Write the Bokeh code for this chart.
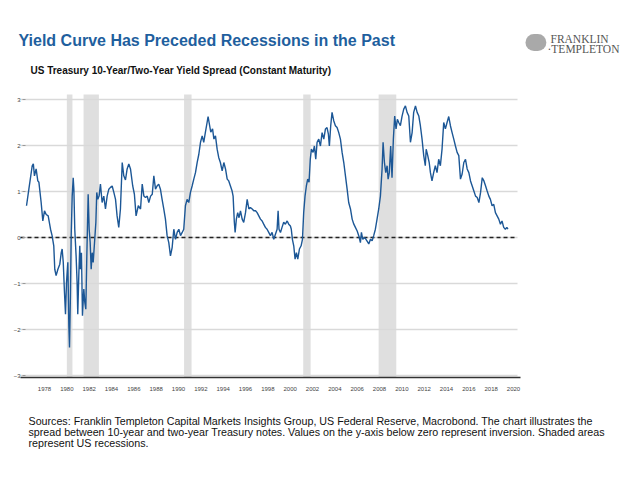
from bokeh.plotting import figure
from bokeh.models import Range1d, FixedTicker, BoxAnnotation, Label
from bokeh.embed import file_html
from bokeh.resources import INLINE

# ---------------- data ----------------
years = [1976.39, 1976.6, 1976.9, 1977.0, 1977.1, 1977.25, 1977.4, 1977.5, 1977.7, 1977.85,
         1978.0, 1978.15, 1978.33, 1978.54, 1978.68, 1978.83, 1978.92, 1979.04, 1979.2, 1979.37,
         1979.5, 1979.58, 1979.68, 1979.79, 1979.88, 1979.97, 1980.09, 1980.18, 1980.24, 1980.32,
         1980.39, 1980.48, 1980.57, 1980.63, 1980.71, 1980.83, 1980.92, 1980.98, 1981.07, 1981.16,
         1981.22, 1981.31, 1981.4, 1981.52, 1981.61, 1981.7, 1981.79, 1981.91, 1982.0, 1982.09,
         1982.18, 1982.27, 1982.36, 1982.48, 1982.6, 1982.68, 1982.77, 1982.89, 1983.01, 1983.16,
         1983.31, 1983.46, 1983.61, 1983.76, 1983.91, 1984.06, 1984.21, 1984.36, 1984.5, 1984.65,
         1984.8, 1984.96, 1985.1, 1985.25, 1985.4, 1985.55, 1985.7, 1985.9, 1986.05, 1986.2,
         1986.4, 1986.6, 1986.75, 1986.9, 1987.04, 1987.2, 1987.34, 1987.5, 1987.65, 1987.79,
         1987.94, 1988.08, 1988.23, 1988.38, 1988.53, 1988.68, 1988.83, 1988.98, 1989.13, 1989.28,
         1989.43, 1989.58, 1989.73, 1989.88, 1990.03, 1990.18, 1990.33, 1990.47, 1990.62, 1990.77,
         1990.92, 1991.07, 1991.22, 1991.37, 1991.52, 1991.67, 1991.82, 1991.97, 1992.12, 1992.26,
         1992.41, 1992.56, 1992.65, 1992.74, 1992.89, 1993.05, 1993.17, 1993.31, 1993.46, 1993.6,
         1993.75, 1993.91, 1994.06, 1994.21, 1994.36, 1994.5, 1994.65, 1994.8, 1994.89, 1995.0,
         1995.07, 1995.18, 1995.3, 1995.42, 1995.55, 1995.7, 1995.84, 1996.0, 1996.15, 1996.3,
         1996.44, 1996.6, 1996.74, 1996.9, 1997.04, 1997.19, 1997.34, 1997.49, 1997.63, 1997.78,
         1997.93, 1998.08, 1998.23, 1998.38, 1998.53, 1998.68, 1998.83, 1998.92, 1999.0, 1999.13,
         1999.27, 1999.42, 1999.57, 1999.73, 1999.87, 2000.02, 2000.1, 2000.2, 2000.32, 2000.44,
         2000.56, 2000.68, 2000.83, 2000.98, 2001.1, 2001.21, 2001.33, 2001.45, 2001.57, 2001.69,
         2001.8, 2001.9, 2002.05, 2002.17, 2002.29, 2002.41, 2002.56, 2002.71, 2002.86, 2003.01,
         2003.16, 2003.3, 2003.42, 2003.51, 2003.63, 2003.75, 2003.9, 2004.05, 2004.2, 2004.35,
         2004.5, 2004.65, 2004.8, 2004.95, 2005.1, 2005.24, 2005.4, 2005.55, 2005.7, 2005.84,
         2006.0, 2006.14, 2006.29, 2006.38, 2006.5, 2006.68, 2006.86, 2007.04, 2007.19, 2007.34,
         2007.48, 2007.63, 2007.78, 2007.93, 2008.08, 2008.23, 2008.32, 2008.44, 2008.56, 2008.68,
         2008.77, 2008.88, 2009.0, 2009.12, 2009.24, 2009.36, 2009.48, 2009.6, 2009.72, 2009.87,
         2010.02, 2010.17, 2010.32, 2010.47, 2010.62, 2010.77, 2010.92, 2011.06, 2011.22, 2011.37,
         2011.52, 2011.66, 2011.81, 2011.96, 2012.1, 2012.18, 2012.32, 2012.45, 2012.56, 2012.7,
         2012.85, 2013.0, 2013.15, 2013.3, 2013.45, 2013.6, 2013.75, 2013.9, 2014.05, 2014.2,
         2014.35, 2014.5, 2014.65, 2014.8, 2014.95, 2015.1, 2015.25, 2015.4, 2015.55, 2015.7,
         2015.85, 2016.0, 2016.15, 2016.3, 2016.45, 2016.6, 2016.75, 2016.9, 2017.05, 2017.2,
         2017.35, 2017.5, 2017.64, 2017.79, 2017.93, 2018.08, 2018.23, 2018.38, 2018.53, 2018.68,
         2018.83, 2018.97, 2019.12, 2019.27, 2019.4, 2019.5]
spread = [0.69, 1.05, 1.56, 1.60, 1.34, 1.49, 1.23, 1.20, 0.76, 0.36,
          0.58, 0.50, 0.47, 0.18, 0.04, -0.18, -0.69, -0.83, -0.69, -0.58,
          -0.33, -0.25, -0.54, -1.20, -1.67, -0.98, -0.54, -1.92, -2.39, -1.27,
          0.04, 0.90, 1.30, 1.05, 0.18, -0.40, -0.98, -1.67, -0.83, -0.18,
          -0.69, -0.33, -1.70, -1.12, -1.41, -1.56, -0.40, 0.94, 0.18, -0.11,
          -0.69, -0.33, -0.54, -0.11, 0.33, 0.98, 0.83, 0.90, 1.16, 0.76,
          0.90, 0.62, 0.90, 1.05, 1.09, 1.12, 0.98, 0.83, 0.47, 0.22,
          0.62, 1.63, 1.34, 1.25, 1.49, 1.60, 1.49, 1.12, 0.94, 0.47,
          0.69, 0.62, 1.16, 0.90, 0.87, 0.90, 0.76, 0.90, 0.94, 1.34,
          1.05, 1.12, 1.16, 1.05, 0.83, 0.62, 0.40, 0.04, -0.11, -0.40,
          -0.22, 0.18, -0.04, 0.11, 0.18, 0.04, 0.11, 0.18, 0.69, 0.83,
          0.76, 0.98, 1.12, 1.27, 1.41, 1.63, 1.81, 2.07, 2.21, 2.07,
          2.29, 2.50, 2.63, 2.50, 2.29, 2.36, 2.14, 2.21, 1.92, 1.74,
          1.63, 1.45, 1.63, 1.49, 1.27, 1.23, 1.12, 1.01, 0.90, 0.33,
          0.11, 0.40, 0.54, 0.43, 0.58, 0.40, 0.33, 0.54, 0.83, 0.62,
          0.65, 0.62, 0.58, 0.58, 0.54, 0.47, 0.40, 0.36, 0.29, 0.22,
          0.18, 0.11, 0.04, 0.11, -0.04, 0.07, 0.18, 0.58, 0.18, 0.11,
          0.22, 0.33, 0.29, 0.36, 0.29, 0.25, 0.18, -0.04, -0.18, -0.47,
          -0.33, -0.47, -0.25, -0.18, -0.04, 0.54, 0.90, 1.12, 1.27, 1.20,
          1.70, 1.92, 1.85, 1.99, 1.70, 2.07, 2.14, 1.99, 2.28, 2.14,
          2.36, 2.39, 2.25, 1.99, 2.43, 2.72, 2.54, 2.43, 2.39, 2.28,
          2.14, 1.85, 1.63, 1.34, 1.05, 0.76, 0.62, 0.40, 0.29, 0.22,
          0.14, 0.04, -0.11, 0.11, -0.04, 0.00, -0.07, -0.14, -0.04, -0.07,
          0.04, 0.18, 0.40, 0.62, 0.90, 1.49, 2.07, 1.63, 1.41, 1.56,
          1.27, 1.41, 1.99, 1.30, 2.14, 2.64, 2.36, 2.57, 2.50, 2.43,
          2.64, 2.79, 2.86, 2.72, 2.64, 2.07, 2.28, 2.72, 2.86, 2.72,
          2.64, 2.43, 2.14, 1.78, 1.56, 1.92, 1.78, 1.63, 1.41, 1.23,
          1.41, 1.56, 1.41, 1.70, 1.56, 1.92, 2.50, 2.36, 2.50, 2.63,
          2.43, 2.28, 2.14, 1.99, 1.85, 1.78, 1.27, 1.38, 1.63, 1.70,
          1.49, 1.41, 1.23, 1.12, 1.01, 0.90, 0.87, 0.76, 0.98, 1.30,
          1.23, 1.12, 1.01, 0.90, 0.83, 0.69, 0.72, 0.54, 0.47, 0.40,
          0.29, 0.36, 0.22, 0.18, 0.22, 0.18]

recession_start = [1980.0, 1981.5, 1990.5, 2001.17, 2007.92]
recession_end = [1980.5, 1982.87, 1991.17, 2001.83, 2009.5]

x_ticks = list(range(1978, 2021, 2))
y_ticks = [-3, -2, -1, 0, 1, 2, 3]
zero_level = 0

title_text = "Yield Curve Has Preceded Recessions in the Past"
subtitle_text = "US Treasury 10-Year/Two-Year Yield Spread (Constant Maturity)"
footnote_lines = [
    "Sources: Franklin Templeton Capital Markets Insights Group, US Federal Reserve, Macrobond. The chart illustrates the",
    "spread between 10-year and two-year Treasury notes. Values on the y-axis below zero represent inversion. Shaded areas",
    "represent US recessions.",
]

# ---------------- layout: the frame covers the whole canvas ----------------
W, H = 632, 472
KX = 11.167            # px per year
KY = 46.0              # px per unit of spread
X0 = 1978 - 44 / KX    # data x at canvas left
Y_TOP = 3 + 99 / KY    # data y at canvas top


def px_x(px):
    return X0 + px / KX


def px_y(py):
    return Y_TOP - py / KY


p = figure(width=W, height=H, output_backend="svg", toolbar_location=None,
           title_location=None,
           x_range=Range1d(px_x(0), px_x(W)), y_range=Range1d(px_y(H), px_y(0)),
           min_border_left=0, min_border_right=0, min_border_top=0, min_border_bottom=0)
p.outline_line_color = None
p.background_fill_color = "white"
p.border_fill_color = "white"
p.xgrid.visible = False
p.ygrid.visible = False

plot_left, plot_right = px_x(25), px_x(517)
plot_bottom, plot_top = px_y(377), px_y(94)

# recession shading
for s, e in zip(recession_start, recession_end):
    p.add_layout(BoxAnnotation(left=s, right=e, bottom=plot_bottom, top=plot_top,
                               fill_color="#dcdcdc", fill_alpha=0.9, line_color=None,
                               level="underlay"))

# horizontal grid lines at the y ticks
p.segment(x0=[px_x(20)] * len(y_ticks), x1=[plot_right] * len(y_ticks),
          y0=y_ticks, y1=y_ticks, line_color="#d9d9d9", line_width=1.5)

# zero reference line
p.segment(x0=[px_x(20)], x1=[plot_right], y0=[zero_level], y1=[zero_level],
          line_color="#222222", line_width=1.6, line_dash="4 3")

# series
p.line(years, spread, line_color="#1c5796", line_width=1.4)

# axes (drawn at fixed locations inside the canvas)
xa = p.xaxis[0]
xa.fixed_location = plot_bottom
xa.bounds = (px_x(20), px_x(520))
xa.ticker = FixedTicker(ticks=x_ticks)
xa.axis_line_color = "#333333"
xa.axis_line_width = 1.3
xa.major_tick_line_color = None
xa.minor_tick_line_color = None
xa.major_label_text_font = "Liberation Sans"
xa.major_label_text_font_size = "6px"
xa.major_label_text_color = "#444444"
xa.major_label_standoff = 3

ya = p.yaxis[0]
ya.fixed_location = plot_left
ya.ticker = FixedTicker(ticks=y_ticks)
ya.axis_line_color = None
ya.major_tick_line_color = "#999999"
ya.major_tick_out = 3
ya.major_tick_in = 0
ya.minor_tick_line_color = None
ya.major_label_text_font = "Liberation Sans"
ya.major_label_text_font_size = "6px"
ya.major_label_text_color = "#444444"
ya.major_label_standoff = 2

# titles
p.add_layout(Label(x=px_x(18), y=px_y(40), text=title_text, text_font="Liberation Sans",
                   text_font_style="bold", text_font_size="16px", text_color="#1f5f9e",
                   text_baseline="middle"))
p.add_layout(Label(x=px_x(30), y=px_y(70), text=subtitle_text, text_font="Liberation Sans",
                   text_font_style="bold", text_font_size="10px", text_color="#111111",
                   text_baseline="middle"))

# logo (medallion + wordmark)
medallion = dict(x=px_x(525), y=px_y(42), text="\u00a0\u00a0\u00a0\u00a0\u00a0", text_font_size="15px",
                 background_fill_color="#9a9a9a", background_fill_alpha=0.85,
                 text_baseline="middle")
if "border_radius" in Label.properties():
    medallion["border_radius"] = 9
p.add_layout(Label(**medallion))
p.add_layout(Label(x=px_x(550), y=px_y(38), text="FRANKLIN", text_font="Liberation Serif",
                   text_font_size="11.5px", text_color="#555555", text_baseline="middle"))
p.add_layout(Label(x=px_x(547), y=px_y(48), text="\u00b7TEMPLETON", text_font="Liberation Serif",
                   text_font_size="11.5px", text_color="#555555", text_baseline="middle"))

# footnote
for i, line in enumerate(footnote_lines):
    p.add_layout(Label(x=px_x(28), y=px_y(420.5 + 11 * i), text=line, text_font="Liberation Sans",
                       text_font_size="10.7px", text_color="#111111", text_baseline="middle"))

open("out.html", "w").write(file_html(p, INLINE))
